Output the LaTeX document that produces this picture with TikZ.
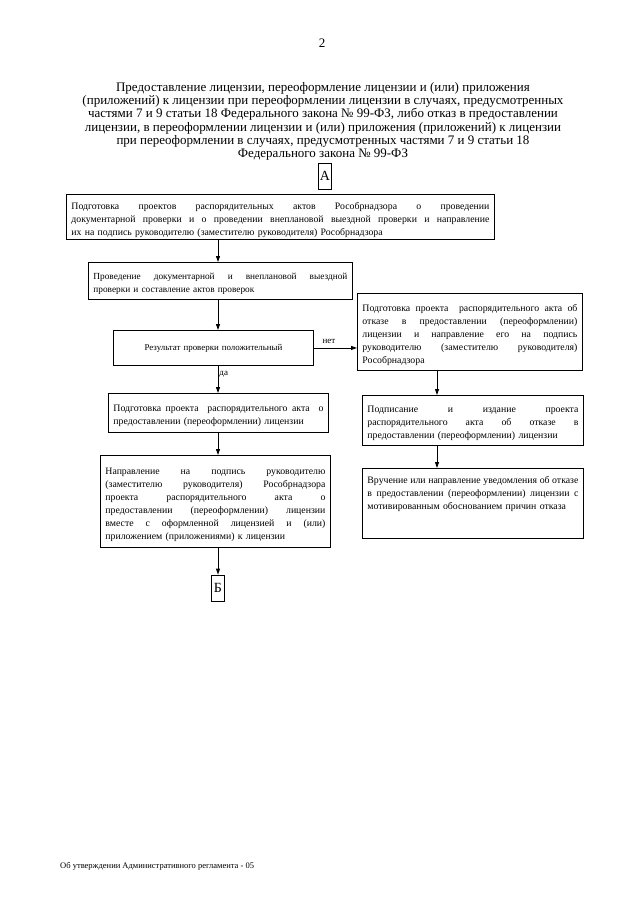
\documentclass[tikz,border=0pt]{standalone}
\usepackage{fontspec}
\setmainfont{Liberation Serif}
\usetikzlibrary{arrows.meta,calc}
\newcommand\jl[1]{\par\noindent\hbox to\hsize{\spaceskip=0.25em plus 1fil\relax #1}}
\newcommand\lastln[1]{\par\noindent\hbox to\hsize{#1\hfil}}
\begin{document}
\begin{tikzpicture}[x=1pt,y=-1pt,
  box/.style={draw,line width=0.9pt,anchor=north west,inner xsep=5pt,inner ysep=2pt,font=\fontsize{9.8}{13}\selectfont},
  arr/.style={-{Triangle[length=6pt,width=4pt]},line width=0.9pt},
  lbl/.style={font=\fontsize{9}{10}\selectfont,inner sep=1pt},
  letterbox/.style={draw,line width=0.8pt,inner sep=0pt,minimum width=13pt,minimum height=26pt,font=\fontsize{14}{14}\selectfont}]
\useasboundingbox (0,0) rectangle (640,905);
\node[font=\fontsize{13}{13}\selectfont] (pg) at (322,43) {2};
\node[anchor=north,align=center,inner sep=0pt,font=\fontsize{13}{13.3}\selectfont] (title) at (323,82)
{Предоставление лицензии, переоформление лицензии и (или) приложения\\
(приложений) к лицензии при переоформлении лицензии в случаях, предусмотренных\\
частями 7 и 9 статьи 18 Федерального закона № 99-ФЗ, либо отказ в предоставлении\\
лицензии, в переоформлении лицензии и (или) приложения (приложений) к лицензии\\
при переоформлении в случаях, предусмотренных частями 7 и 9 статьи 18\\
Федерального закона № 99-ФЗ};
\node[letterbox] (A) at (325,176) {А};
\node[box,text width=418pt,minimum height=44pt] (b1) at (66,194)
{\jl{Подготовка проектов распорядительных актов Рособрнадзора о проведении}
\jl{документарной проверки и о проведении внеплановой выездной проверки и направление}
\lastln{их на подпись руководителю (заместителю руководителя) Рособрнадзора}};
\node[box,text width=254pt,minimum height=37pt,font=\fontsize{9.3}{13}\selectfont] (b2) at (88,262)
{\jl{Проведение документарной и внеплановой выездной}
\lastln{проверки и составление актов проверок}};
\node[box,text width=190pt,minimum height=35pt,align=center,font=\fontsize{8.9}{13}\selectfont] (b3) at (113,330)
{Результат проверки положительный};
\node[box,text width=215pt,minimum height=77pt] (r1) at (357,293)
{\jl{Подготовка проекта \ распорядительного акта об}
\jl{отказе в предоставлении (переоформлении)}
\jl{лицензии и направление его на подпись}
\jl{руководителю (заместителю руководителя)}
\lastln{Рособрнадзора}};
\node[box,text width=210pt,minimum height=39pt] (l4) at (108,393)
{\jl{Подготовка проекта \ распорядительного акта \ о}
\lastln{предоставлении (переоформлении) лицензии}};
\node[box,text width=211pt,minimum height=50pt] (r2) at (362,395)
{\jl{Подписание и издание проекта}
\jl{распорядительного акта об отказе в}
\lastln{предоставлении (переоформлении) лицензии}};
\node[box,text width=220pt,minimum height=92pt] (l5) at (100,455)
{\jl{Направление на подпись руководителю}
\jl{(заместителю руководителя) Рособрнадзора}
\jl{проекта распорядительного акта о}
\jl{предоставлении (переоформлении) лицензии}
\jl{вместе с оформленной лицензией и (или)}
\lastln{приложением (приложениями) к лицензии}};
\node[box,text width=211pt,minimum height=68pt] (r3) at (362,468)
{\jl{Вручение или направление уведомления об отказе}
\jl{в предоставлении (переоформлении) лицензии с}
\lastln{мотивированным обоснованием причин отказа}
\par\kern 14pt\hbox{}};
\node[letterbox] (B) at (218,588) {Б};
\coordinate (sp) at (218,0);
\coordinate (rs) at (437,0);
\draw[arr] (b1.south -| sp) -- (b2.north -| sp);
\draw[arr] (b2.south -| sp) -- (b3.north -| sp);
\draw[arr] (b3.south -| sp) -- (l4.north -| sp) node[lbl,pos=0.3,right] (da) {да};
\draw[arr] (l4.south -| sp) -- (l5.north -| sp);
\draw[arr] (l5.south -| sp) -- (B.north -| sp);
\draw[arr] (b3.east) -- (b3.east -| r1.west) node[lbl,pos=0.35,above=3pt] (net) {нет};
\draw[arr] (r1.south -| rs) -- (r2.north -| rs);
\draw[arr] (r2.south -| rs) -- (r3.north -| rs);
\node[anchor=west,inner sep=0pt,font=\fontsize{8.5}{10}\selectfont] (foot) at (60,866) {Об утверждении Административного регламента - 05};
\end{tikzpicture}
\end{document}
